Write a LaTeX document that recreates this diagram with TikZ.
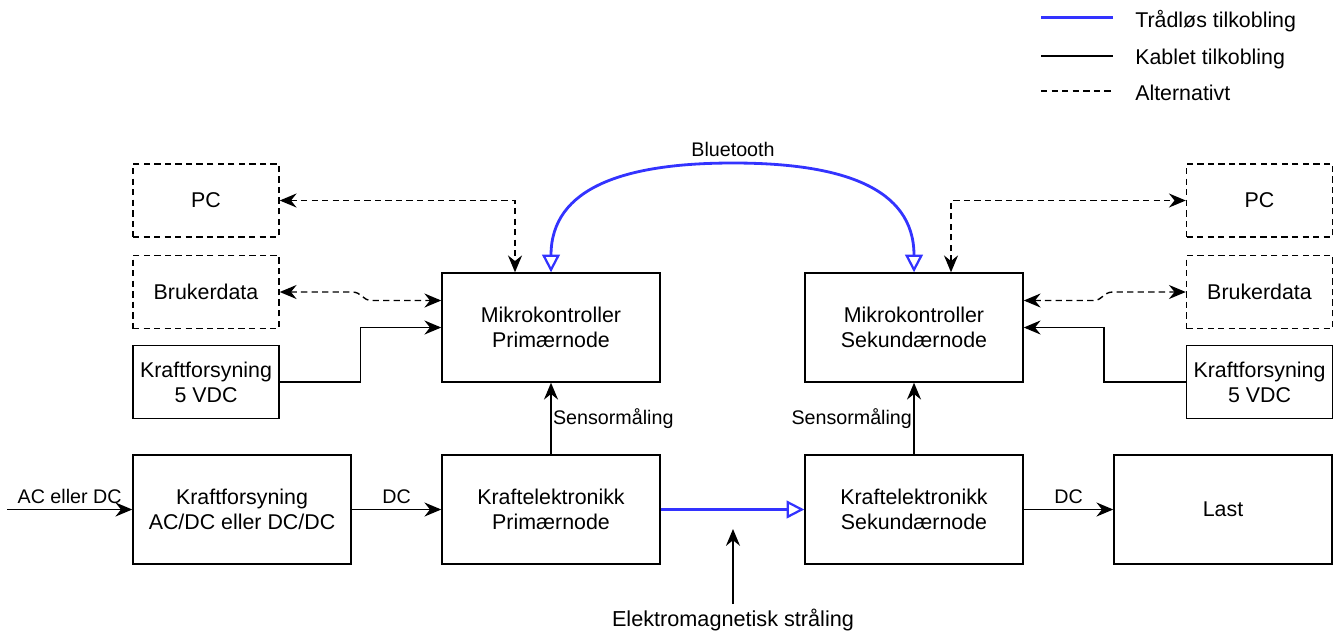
\documentclass[tikz,border=0pt]{standalone}
\usepackage{fontspec}
\setmainfont{Liberation Sans}
\usetikzlibrary{arrows.meta,calc}
\definecolor{blaa}{RGB}{51,51,255}
\begin{document}
\begin{tikzpicture}[x=0.025cm, y=-0.025cm]
	\tikzset{pil/.tip={Stealth[length=12pt,width=10pt,inset=4pt]}, apen/.tip={Triangle[open,length=12.5pt,width=12.5pt,line width=1.6pt]}}
	\tikzset{boks/.style={draw, line width=1pt, minimum width=5.45cm, minimum height=2.725cm, inner sep=2pt, align=center, font=\fontsize{15.2}{17.7}\selectfont}}
	\tikzset{smaboks/.style={boks, minimum width=3.65cm, minimum height=1.825cm}}
	\tikzset{stiplet/.style={line width=1pt, dash pattern=on 4.5pt off 3pt}}
	\tikzset{altboks/.style={smaboks, stiplet}}
	\tikzset{kabel/.style={line width=1pt, -pil}}
	\tikzset{alt/.style={stiplet, pil-pil}}
	\tikzset{tradlos/.style={line width=2pt, draw=blaa}}
	\tikzset{etikett/.style={font=\fontsize{14}{16.8}\selectfont}}
	\tikzset{forklaring/.style={anchor=base west, inner sep=0pt, font=\fontsize{15.2}{17.7}\selectfont}}
	\useasboundingbox (0,0) rectangle (1338,633);

	\node[altboks] at (206,200.5) (pcL) {PC};
	\node[altboks] at (206,292) (brL) {Brukerdata};
	\node[smaboks] at (206,382) (psL) {Kraftforsyning\\5 VDC};
	\node[boks] at (551,327.5) (mcP) {Mikrokontroller\\Primærnode};
	\node[boks] at (914,327.5) (mcS) {Mikrokontroller\\Sekundærnode};
	\node[altboks] at (1259.5,200.5) (pcR) {PC};
	\node[altboks] at (1259.5,292) (brR) {Brukerdata};
	\node[smaboks] at (1259.5,382) (psR) {Kraftforsyning\\5 VDC};
	\node[boks] at (242,509.5) (acdc) {Kraftforsyning\\AC/DC eller DC/DC};
	\node[boks] at (551,509.5) (pe1) {Kraftelektronikk\\Primærnode};
	\node[boks] at (914,509.5) (pe2) {Kraftelektronikk\\Sekundærnode};
	\node[boks] at (1223,509.5) (last) {Last};
	\node[etikett, font=\fontsize{15.4}{18}\selectfont] at (733,620) (em) {Elektromagnetisk stråling};

	% Forklaring
	\coordinate (l1a) at (1041,17.5);
	\coordinate (l1b) at (1113,17.5);
	\coordinate (l2a) at (1041,56);
	\coordinate (l2b) at (1113,56);
	\coordinate (l3a) at (1041,91);
	\coordinate (l3b) at (1113,91);
	\draw [tradlos] (l1a) -- (l1b);
	\draw [line width=1pt] (l2a) -- (l2b);
	\draw [stiplet] (l3a) -- (l3b);
	\node[forklaring] at (1135,27.5) (t1) {Trådløs tilkobling};
	\node[forklaring] at (1135,64) (t2) {Kablet tilkobling};
	\node[forklaring] at (1135,100.5) (t3) {Alternativt};

	% Kablet tilkobling
	\coordinate (acin) at (7,509.5);
	\coordinate (emtopp) at (733,529);
	\draw [kabel] (acin) -- (acdc.west) node[etikett, midway, above] {AC eller DC};
	\draw [kabel] (acdc) -- (pe1) node[etikett, midway, above] {DC};
	\draw [kabel] (pe2) -- (last) node[etikett, midway, above] {DC};
	\draw [kabel] (pe1) -- (mcP) node[etikett, midway, right, inner sep=1pt] {Sensormåling};
	\draw [kabel] (pe2) -- (mcS) node[etikett, midway, left, inner sep=1pt] {Sensormåling};
	\draw [kabel] (em) -- (emtopp);
	\draw [kabel] (psL.east) -- ++(81,0) |- (mcP.west);
	\draw [kabel] (psR.west) -- ++(-82,0) |- (mcS.east);

	% Trådløs tilkobling
	\draw [tradlos, -apen] (pe1) -- (pe2);
	\draw [tradlos, apen-apen] (mcP.north) .. controls +(0,-85) and (625,163) .. (733,163) node[etikett, above, text=black] (bt) {Bluetooth} .. controls (841,163) and +(0,-85) .. (mcS.north);

	% Alternativt
	\draw [alt] (pcL.east) -| ($(mcP.north)+(-36,0)$);
	\draw [alt] ($(mcS.north)+(37,0)$) |- (pcR.west);
	\draw [alt] (brL.east) -- (352,292) .. controls (362,292) and (362,300.5) .. (372,300.5) -- ($(mcP.west)+(0,-27)$);
	\draw [alt] ($(mcS.east)+(0,-27)$) -- (1093,300.5) .. controls (1103,300.5) and (1103,292) .. (1113,292) -- (brR.west);
\end{tikzpicture}
\end{document}
